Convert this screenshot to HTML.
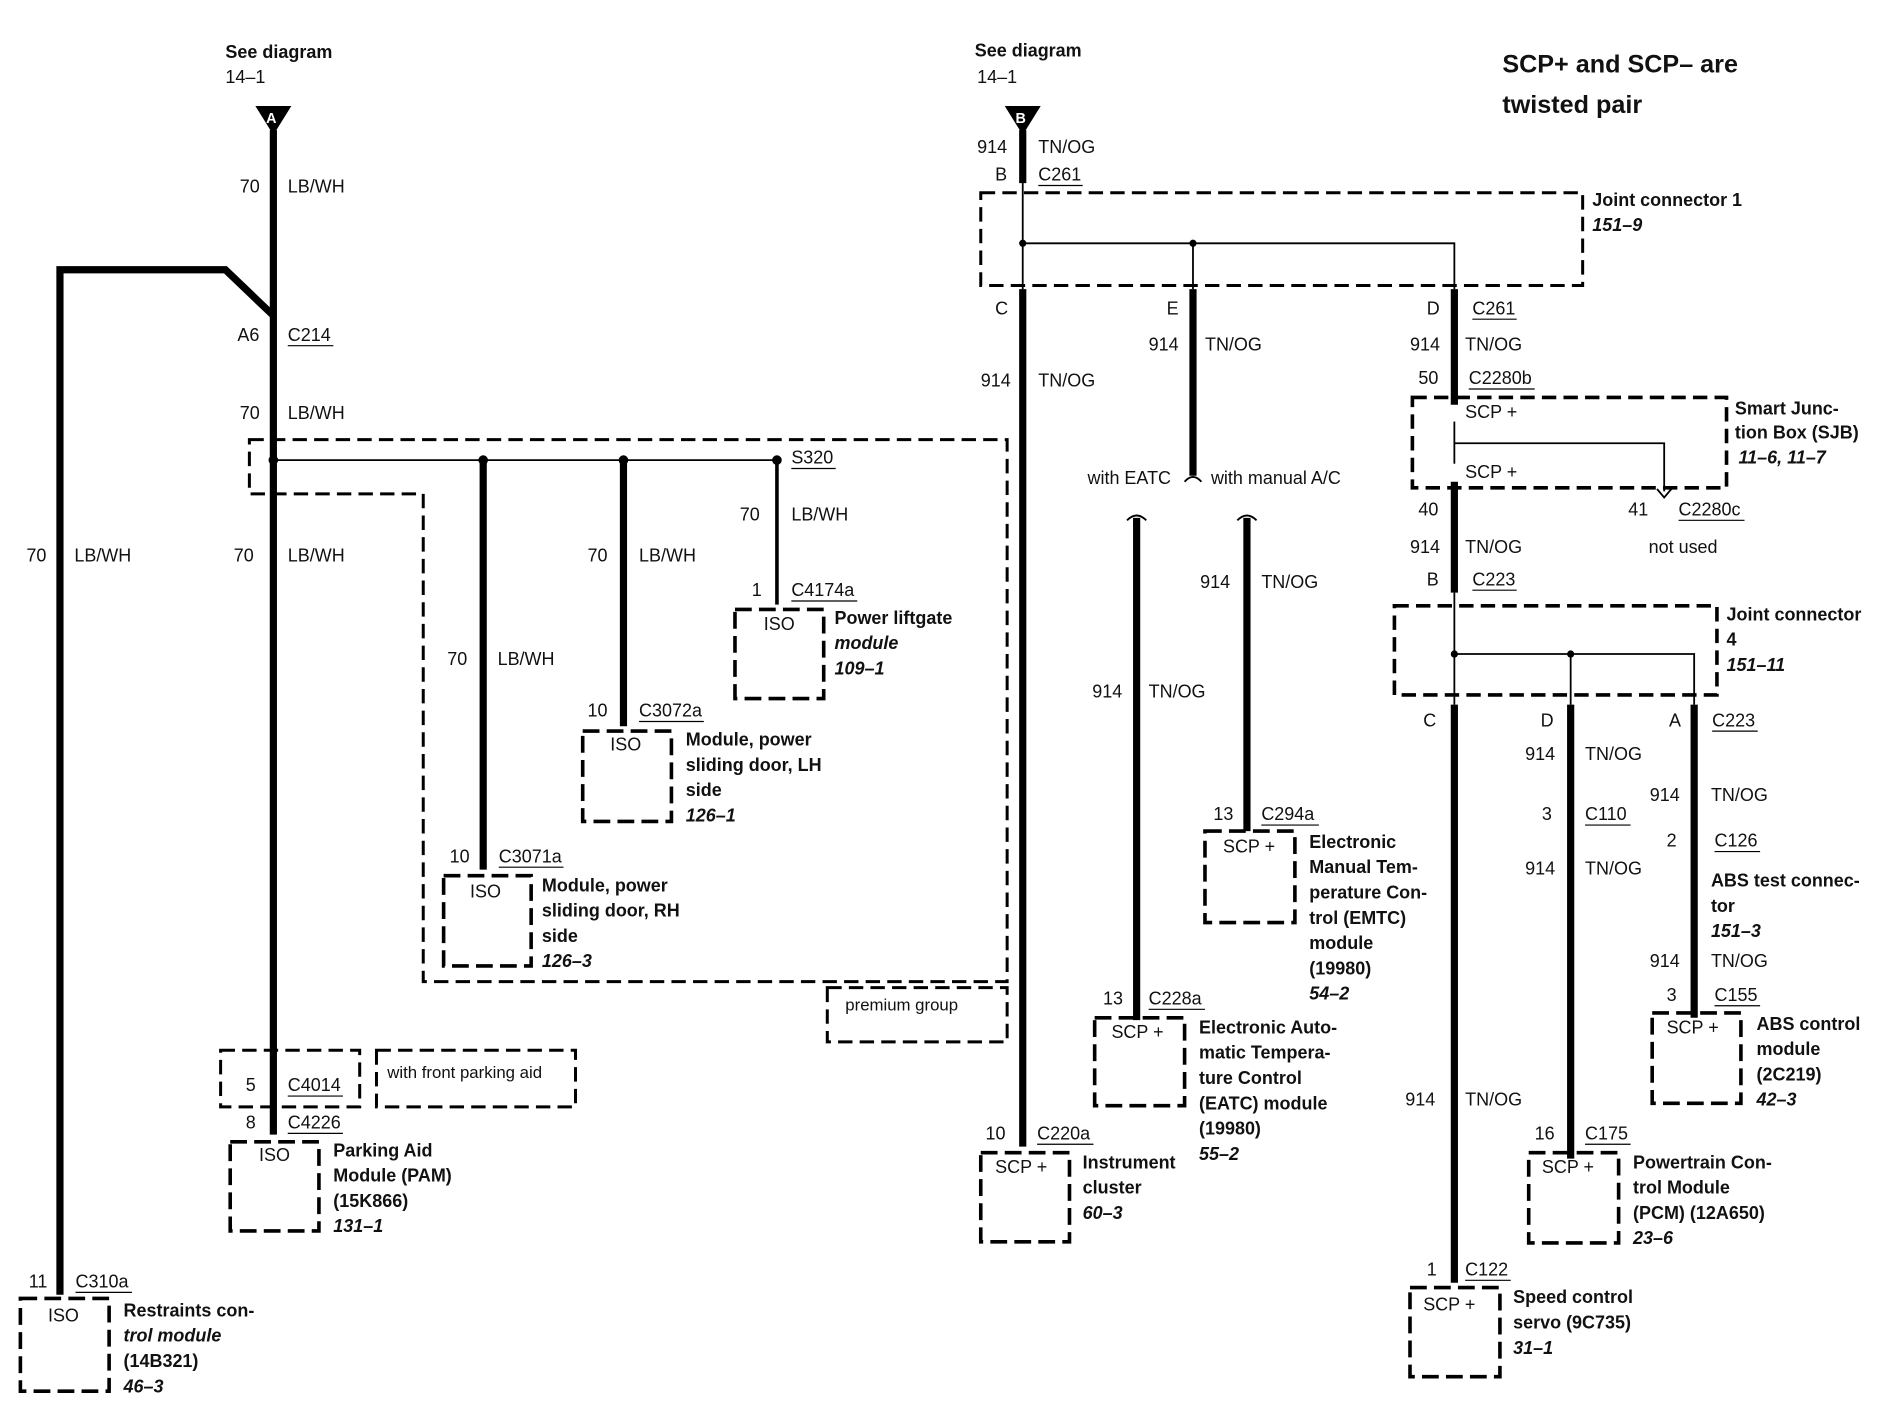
<!DOCTYPE html>
<html><head><meta charset="utf-8">
<style>
html,body{margin:0;padding:0;background:#fff;}
svg{display:block;}
text{font-family:"Liberation Sans",sans-serif;font-size:15px;fill:#111;}
.b{font-weight:bold;}
.i{font-weight:bold;font-style:italic;}
.thick{stroke:#000;stroke-width:6;fill:none;}
.thin{stroke:#000;stroke-width:1.5;fill:none;}
.dash{stroke:#000;stroke-width:2.5;fill:none;stroke-dasharray:12 6;}
.box{stroke:#000;stroke-width:3;fill:none;stroke-dasharray:14 6;}
.u{stroke:#000;stroke-width:1;}
</style></head><body>
<svg width="1880" height="1408" viewBox="0 0 1568 1169" preserveAspectRatio="none" xmlns="http://www.w3.org/2000/svg">
<rect width="1568" height="1169" fill="#fff"/>

<!-- LEFT -->
<text x="188" y="48" class="b">See diagram</text>
<text x="188" y="69">14–1</text>
<polygon points="213,88 243,88 228,112" fill="#000"/>
<text x="222" y="102" style="fill:#fff;font-size:12px;font-weight:bold">A</text>
<line x1="228" y1="108" x2="228" y2="942" class="thick"/>
<polyline points="50,1075 50,224 188,224 228,262" class="thick"/>
<text x="200" y="160">70</text><text x="240" y="160">LB/WH</text>
<text x="198" y="283">A6</text><text x="240" y="283">C214</text><line x1="240" y1="287" x2="278" y2="287" class="u"/>
<text x="200" y="348">70</text><text x="240" y="348">LB/WH</text>
<path d="M208,365 H840 V815 H353 V410 H208 Z" class="dash"/>
<line x1="228" y1="382" x2="648" y2="382" class="thin"/>
<circle cx="228" cy="382" r="4"/><circle cx="403" cy="382" r="4"/><circle cx="520" cy="382" r="4"/><circle cx="648" cy="382" r="4"/>
<text x="660" y="385">S320</text><line x1="660" y1="389" x2="697" y2="389" class="u"/>
<text x="22" y="466">70</text><text x="62" y="466">LB/WH</text>
<text x="195" y="466">70</text><text x="240" y="466">LB/WH</text>

<line x1="403" y1="382" x2="403" y2="722" class="thick"/>
<text x="373" y="552">70</text><text x="415" y="552">LB/WH</text>
<text x="375" y="716">10</text><text x="416" y="716">C3071a</text><line x1="416" y1="720" x2="470" y2="720" class="u"/>
<rect x="370" y="727" width="73" height="75" class="box"/>
<text x="392" y="745">ISO</text>
<text x="452" y="740" class="b">Module, power</text>
<text x="452" y="761" class="b">sliding door, RH</text>
<text x="452" y="782" class="b">side</text>
<text x="452" y="803" class="i">126–3</text>

<line x1="520" y1="382" x2="520" y2="603" class="thick"/>
<text x="490" y="466">70</text><text x="533" y="466">LB/WH</text>
<text x="490" y="595">10</text><text x="533" y="595">C3072a</text><line x1="533" y1="599" x2="587" y2="599" class="u"/>
<rect x="486" y="607" width="74" height="75" class="box"/>
<text x="509" y="623">ISO</text>
<text x="572" y="619" class="b">Module, power</text>
<text x="572" y="640" class="b">sliding door, LH</text>
<text x="572" y="661" class="b">side</text>
<text x="572" y="682" class="i">126–1</text>

<line x1="648" y1="382" x2="648" y2="502" class="thin" style="stroke-width:3"/>
<text x="617" y="432">70</text><text x="660" y="432">LB/WH</text>
<text x="627" y="495">1</text><text x="660" y="495">C4174a</text><line x1="660" y1="499" x2="715" y2="499" class="u"/>
<rect x="613" y="506" width="74" height="74" class="box"/>
<text x="637" y="523">ISO</text>
<text x="696" y="518" class="b">Power liftgate</text>
<text x="696" y="539" class="i">module</text>
<text x="696" y="560" class="i">109–1</text>

<rect x="690" y="820" width="150" height="45" class="dash"/>
<text x="705" y="839" style="font-size:14px">premium group</text>
<rect x="184" y="872" width="116" height="47" class="dash"/>
<text x="205" y="906">5</text><text x="240" y="906">C4014</text><line x1="240" y1="910" x2="286" y2="910" class="u"/>
<rect x="314" y="872" width="166" height="47" class="dash"/>
<text x="323" y="895" style="font-size:14px">with front parking aid</text>
<text x="205" y="937">8</text><text x="240" y="937">C4226</text><line x1="240" y1="941" x2="286" y2="941" class="u"/>
<rect x="192" y="948" width="74" height="74" class="box"/>
<text x="216" y="964">ISO</text>
<text x="278" y="960" class="b">Parking Aid</text>
<text x="278" y="981" class="b">Module (PAM)</text>
<text x="278" y="1002" class="b">(15K866)</text>
<text x="278" y="1023" class="i">131–1</text>

<text x="24" y="1069">11</text><text x="63" y="1069">C310a</text><line x1="63" y1="1073" x2="110" y2="1073" class="u"/>
<rect x="17" y="1078" width="74" height="77" class="box"/>
<text x="40" y="1097">ISO</text>
<text x="103" y="1093" class="b">Restraints con-</text>
<text x="103" y="1114" class="i">trol module</text>
<text x="103" y="1135" class="b">(14B321)</text>
<text x="103" y="1156" class="i">46–3</text>

<!-- RIGHT -->
<text x="813" y="47" class="b">See diagram</text>
<text x="815" y="69">14–1</text>
<polygon points="838,88 868,88 853,112" fill="#000"/>
<text x="847" y="102" style="fill:#fff;font-size:12px;font-weight:bold">B</text>
<text x="1253" y="60" class="b" style="font-size:21px">SCP+ and SCP– are</text>
<text x="1253" y="94" class="b" style="font-size:21px">twisted pair</text>

<line x1="853" y1="108" x2="853" y2="152" class="thick"/>
<text x="815" y="127">914</text><text x="866" y="127">TN/OG</text>
<text x="830" y="150">B</text><text x="866" y="150">C261</text><line x1="866" y1="154" x2="903" y2="154" class="u"/>
<rect x="818" y="160" width="502" height="77" class="dash"/>
<text x="1328" y="171" class="b">Joint connector 1</text>
<text x="1328" y="192" class="i">151–9</text>
<line x1="853" y1="150" x2="853" y2="240" class="thin"/>
<polyline points="853,202 1213,202 1213,240" class="thin"/>
<line x1="995" y1="202" x2="995" y2="240" class="thin"/>
<circle cx="853" cy="202" r="3"/><circle cx="995" cy="202" r="3"/>
<text x="830" y="261">C</text><text x="973" y="261">E</text><text x="1190" y="261">D</text>
<text x="1228" y="261">C261</text><line x1="1228" y1="265" x2="1265" y2="265" class="u"/>

<line x1="853" y1="240" x2="853" y2="952" class="thick"/>
<text x="818" y="321">914</text><text x="866" y="321">TN/OG</text>
<line x1="995" y1="240" x2="995" y2="395" class="thick"/>
<text x="958" y="291">914</text><text x="1005" y="291">TN/OG</text>
<text x="907" y="402">with EATC</text><text x="1010" y="402">with manual A/C</text>
<path d="M988,400 q7,-8 14,0" class="thin"/>
<path d="M940,432 q8,-8 16,0" class="thin"/><path d="M1032,432 q8,-8 16,0" class="thin"/>
<line x1="948" y1="430" x2="948" y2="847" class="thick"/>
<line x1="1040" y1="430" x2="1040" y2="690" class="thick"/>
<text x="1001" y="488">914</text><text x="1052" y="488">TN/OG</text>
<text x="911" y="579">914</text><text x="958" y="579">TN/OG</text>

<text x="1012" y="681">13</text><text x="1052" y="681">C294a</text><line x1="1052" y1="685" x2="1100" y2="685" class="u"/>
<rect x="1005" y="690" width="75" height="76" class="box"/>
<text x="1020" y="708">SCP +</text>
<text x="1092" y="704" class="b">Electronic</text>
<text x="1092" y="725" class="b">Manual Tem-</text>
<text x="1092" y="746" class="b">perature Con-</text>
<text x="1092" y="767" class="b">trol (EMTC)</text>
<text x="1092" y="788" class="b">module</text>
<text x="1092" y="809" class="b">(19980)</text>
<text x="1092" y="830" class="i">54–2</text>

<text x="920" y="834">13</text><text x="958" y="834">C228a</text><line x1="958" y1="838" x2="1005" y2="838" class="u"/>
<rect x="913" y="845" width="75" height="73" class="box"/>
<text x="927" y="862">SCP +</text>
<text x="1000" y="858" class="b">Electronic Auto-</text>
<text x="1000" y="879" class="b">matic Tempera-</text>
<text x="1000" y="900" class="b">ture Control</text>
<text x="1000" y="921" class="b">(EATC) module</text>
<text x="1000" y="942" class="b">(19980)</text>
<text x="1000" y="963" class="i">55–2</text>

<text x="822" y="946">10</text><text x="865" y="946">C220a</text><line x1="865" y1="950" x2="912" y2="950" class="u"/>
<rect x="818" y="957" width="74" height="74" class="box"/>
<text x="830" y="974">SCP +</text>
<text x="903" y="970" class="b">Instrument</text>
<text x="903" y="991" class="b">cluster</text>
<text x="903" y="1012" class="i">60–3</text>

<line x1="1213" y1="240" x2="1213" y2="336" class="thick"/>
<text x="1176" y="291">914</text><text x="1222" y="291">TN/OG</text>
<text x="1183" y="319">50</text><text x="1225" y="319">C2280b</text><line x1="1225" y1="323" x2="1280" y2="323" class="u"/>
<rect x="1178" y="330" width="262" height="75" class="dash" style="stroke-width:3"/>
<text x="1222" y="347">SCP +</text>
<text x="1222" y="397">SCP +</text>
<line x1="1213" y1="350" x2="1213" y2="385" class="thin"/>
<polyline points="1213,368 1388,368 1388,408" class="thin"/>
<path d="M1382,406 l6,7 l6,-7" class="thin"/>
<text x="1447" y="344" class="b">Smart Junc-</text>
<text x="1447" y="364" class="b">tion Box (SJB)</text>
<text x="1450" y="385" class="i">11–6, 11–7</text>
<text x="1183" y="428">40</text>
<text x="1358" y="428">41</text><text x="1400" y="428">C2280c</text><line x1="1400" y1="432" x2="1455" y2="432" class="u"/>
<text x="1375" y="459">not used</text>
<line x1="1213" y1="400" x2="1213" y2="492" class="thick"/>
<text x="1176" y="459">914</text><text x="1222" y="459">TN/OG</text>
<text x="1190" y="486">B</text><text x="1228" y="486">C223</text><line x1="1228" y1="490" x2="1265" y2="490" class="u"/>

<rect x="1163" y="503" width="269" height="74" class="dash" style="stroke-width:3"/>
<text x="1440" y="515" class="b">Joint connector</text>
<text x="1440" y="536" class="b">4</text>
<text x="1440" y="557" class="i">151–11</text>
<line x1="1213" y1="492" x2="1213" y2="585" class="thin"/>
<polyline points="1213,543 1413,543 1413,585" class="thin"/>
<line x1="1310" y1="543" x2="1310" y2="585" class="thin"/>
<circle cx="1213" cy="543" r="3"/><circle cx="1310" cy="543" r="3"/>
<text x="1187" y="603">C</text><text x="1285" y="603">D</text><text x="1392" y="603">A</text>
<text x="1428" y="603">C223</text><line x1="1428" y1="607" x2="1466" y2="607" class="u"/>

<line x1="1310" y1="585" x2="1310" y2="962" class="thick"/>
<text x="1272" y="631">914</text><text x="1322" y="631">TN/OG</text>
<text x="1286" y="681">3</text><text x="1322" y="681">C110</text><line x1="1322" y1="685" x2="1360" y2="685" class="u"/>
<text x="1272" y="726">914</text><text x="1322" y="726">TN/OG</text>
<text x="1280" y="946">16</text><text x="1322" y="946">C175</text><line x1="1322" y1="950" x2="1360" y2="950" class="u"/>
<rect x="1275" y="957" width="75" height="75" class="box"/>
<text x="1286" y="974">SCP +</text>
<text x="1362" y="970" class="b">Powertrain Con-</text>
<text x="1362" y="991" class="b">trol Module</text>
<text x="1362" y="1012" class="b">(PCM) (12A650)</text>
<text x="1362" y="1033" class="i">23–6</text>

<line x1="1413" y1="585" x2="1413" y2="845" class="thick"/>
<text x="1376" y="665">914</text><text x="1427" y="665">TN/OG</text>
<text x="1390" y="703">2</text><text x="1430" y="703">C126</text><line x1="1430" y1="707" x2="1468" y2="707" class="u"/>
<text x="1427" y="736" class="b">ABS test connec-</text>
<text x="1427" y="757" class="b">tor</text>
<text x="1427" y="778" class="i">151–3</text>
<text x="1376" y="803">914</text><text x="1427" y="803">TN/OG</text>
<text x="1390" y="831">3</text><text x="1430" y="831">C155</text><line x1="1430" y1="835" x2="1468" y2="835" class="u"/>
<rect x="1378" y="841" width="74" height="75" class="box"/>
<text x="1390" y="858">SCP +</text>
<text x="1465" y="855" class="b">ABS control</text>
<text x="1465" y="876" class="b">module</text>
<text x="1465" y="897" class="b">(2C219)</text>
<text x="1465" y="918" class="i">42–3</text>

<line x1="1213" y1="585" x2="1213" y2="1065" class="thick"/>
<text x="1172" y="918">914</text><text x="1222" y="918">TN/OG</text>
<text x="1190" y="1059">1</text><text x="1222" y="1059">C122</text><line x1="1222" y1="1063" x2="1260" y2="1063" class="u"/>
<rect x="1176" y="1069" width="75" height="74" class="box"/>
<text x="1187" y="1088">SCP +</text>
<text x="1262" y="1082" class="b">Speed control</text>
<text x="1262" y="1103" class="b">servo (9C735)</text>
<text x="1262" y="1124" class="i">31–1</text>
</svg>
</body></html>
